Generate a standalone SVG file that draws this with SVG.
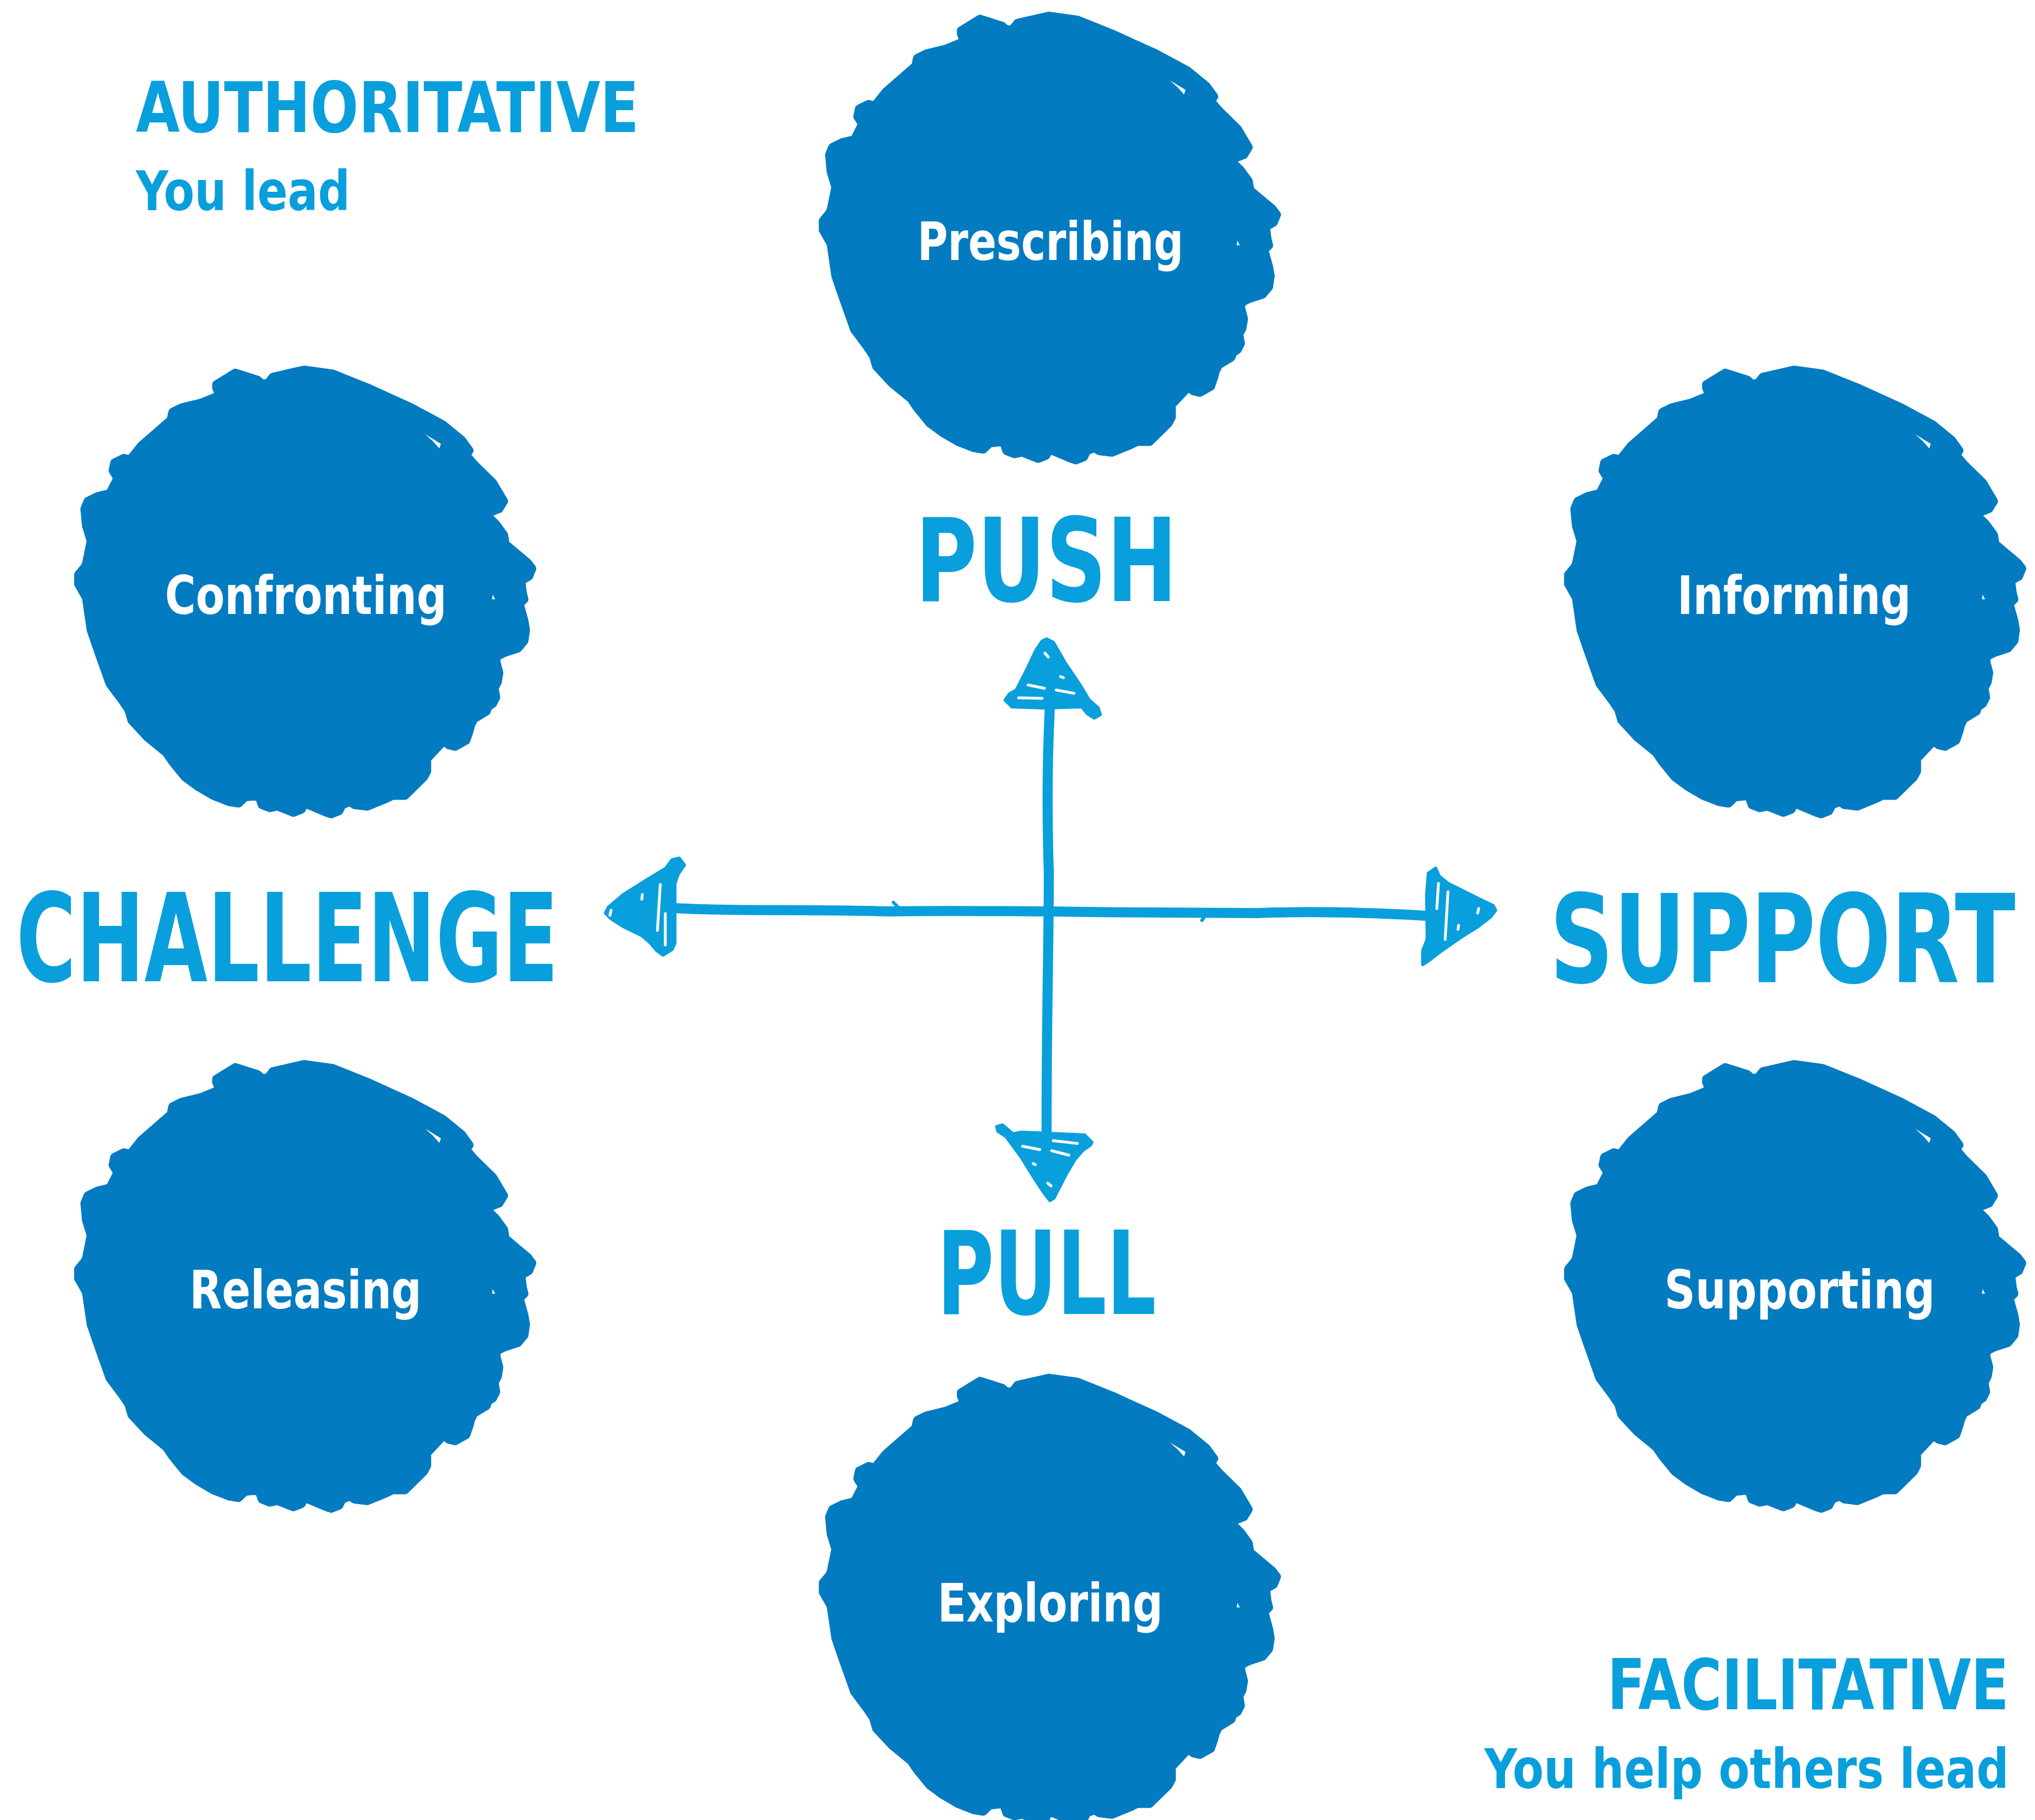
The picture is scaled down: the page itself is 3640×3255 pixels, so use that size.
<svg xmlns="http://www.w3.org/2000/svg" xmlns:xlink="http://www.w3.org/1999/xlink" width="3640" height="3255" viewBox="0 0 3640 3255">
<style>
.blob{fill:#037BC1;stroke:#037BC1;stroke-width:28;stroke-linejoin:round}
.gap{fill:#ffffff}
.lbl{font-family:"DejaVu Sans Condensed","DejaVu Sans",sans-serif;font-weight:bold;font-size:95px;fill:#ffffff}
.title{font-family:"DejaVu Sans Condensed","DejaVu Sans",sans-serif;font-weight:bold;fill:#099FDC}
.brush{font-family:"DejaVu Sans Condensed","DejaVu Sans",sans-serif;font-weight:bold;fill:#099FDC}
.ink{fill:#099FDC;stroke:#099FDC;stroke-width:6;stroke-linejoin:round}
.shaft{fill:none;stroke:#099FDC;stroke-linecap:round;stroke-linejoin:round}
.slit{fill:none;stroke:#ffffff;stroke-width:5;stroke-linecap:round}
</style>
<defs>
<g id="blob">
<path class="blob" d="M480,100 L540,62 L610,85 L625,98 L645,95 L660,75 L760,52 L850,65 L960,110 L1100,175 L1200,230 L1260,280 L1285,315 L1275,330 L1300,360 L1360,420 L1395,480 L1380,505 L1355,515 L1310,495 L1370,555 L1395,590 L1400,620 L1470,680 L1485,700 L1475,725 L1450,740 L1455,780 L1460,800 L1445,815 L1460,870 L1465,900 L1460,935 L1440,960 L1395,975 L1375,985 L1370,1000 L1380,1040 L1375,1070 L1365,1090 L1370,1120 L1360,1140 L1345,1150 L1340,1165 L1300,1190 L1290,1210 L1285,1230 L1275,1260 L1240,1280 L1220,1275 L1205,1260 L1150,1320 L1150,1360 L1140,1380 L1080,1440 L1040,1440 L1020,1450 L960,1475 L920,1470 L905,1460 L880,1470 L870,1490 L845,1500 L830,1495 L760,1465 L750,1485 L725,1495 L675,1475 L650,1480 L625,1470 L615,1440 L570,1445 L550,1465 L520,1460 L470,1440 L420,1410 L380,1380 L340,1330 L320,1300 L260,1250 L210,1195 L200,1160 L180,1130 L140,1075 L100,960 L80,900 L65,795 L40,750 L40,720 L60,695 L65,685 L80,610 L65,560 L60,505 L70,480 L100,465 L140,455 L165,405 L150,380 L155,355 L185,340 L205,345 L240,300 L335,215 L340,190 L370,175 L430,160 L490,135 L480,110 Z"/>
<path class="gap" d="M1145,262 L1195,293 L1190,308 L1170,285 Z"/>
<path class="gap" d="M1360,785 L1368,800 L1358,800 Z"/>
</g>
</defs>
<rect width="3640" height="3255" fill="#ffffff"/>

<g id="title-authoritative">
<text class="title" x="243" y="236" font-size="124" textLength="900" lengthAdjust="spacingAndGlyphs">AUTHORITATIVE</text>
<text class="title" x="243" y="376" font-size="98" textLength="383" lengthAdjust="spacingAndGlyphs">You lead</text>
</g>
<g id="title-facilitative">
<text class="title" transform="translate(2875,3057) scale(0.853,1)" x="0" y="0" font-size="124" textLength="842" lengthAdjust="spacingAndGlyphs">FACILITATIVE</text>
<text class="title" transform="translate(2655,3198) scale(0.911,1)" x="0" y="0" font-size="98" textLength="1030" lengthAdjust="spacingAndGlyphs">You help others lead</text>
</g>

<g id="node-prescribing">
<use xlink:href="#blob" href="#blob" transform="translate(1450,0) scale(0.5612,0.5485)"/>
<text class="lbl" x="1641" y="465" textLength="476" lengthAdjust="spacingAndGlyphs">Prescribing</text>
</g>
<g id="node-confronting">
<use xlink:href="#blob" href="#blob" transform="translate(118,633) scale(0.5612,0.5485)"/>
<text class="lbl" x="295" y="1098" textLength="504" lengthAdjust="spacingAndGlyphs">Confronting</text>
</g>
<g id="node-informing">
<use xlink:href="#blob" href="#blob" transform="translate(2783,633) scale(0.5612,0.5485)"/>
<text class="lbl" x="3000" y="1098" textLength="418" lengthAdjust="spacingAndGlyphs">Informing</text>
</g>
<g id="node-releasing">
<use xlink:href="#blob" href="#blob" transform="translate(118,1875) scale(0.5612,0.5485)"/>
<text class="lbl" x="339" y="2340" textLength="415" lengthAdjust="spacingAndGlyphs">Releasing</text>
</g>
<g id="node-supporting">
<use xlink:href="#blob" href="#blob" transform="translate(2783,1875) scale(0.5612,0.5485)"/>
<text class="lbl" x="2977" y="2340" textLength="484" lengthAdjust="spacingAndGlyphs">Supporting</text>
</g>
<g id="node-exploring">
<use xlink:href="#blob" href="#blob" transform="translate(1450,2436) scale(0.5612,0.5485)"/>
<text class="lbl" x="1677" y="2900" textLength="403" lengthAdjust="spacingAndGlyphs">Exploring</text>
</g>

<g id="axis-labels">
<text class="brush" x="1637" y="1075" font-size="206" textLength="469" lengthAdjust="spacingAndGlyphs">PUSH</text>
<text class="brush" x="1676" y="2350" font-size="206" textLength="392" lengthAdjust="spacingAndGlyphs">PULL</text>
<text class="brush" x="29" y="1755" font-size="220" textLength="970" lengthAdjust="spacingAndGlyphs">CHALLENGE</text>
<text class="brush" transform="translate(2772,1757) scale(0.794,1)" x="0" y="0" font-size="220" textLength="1049" lengthAdjust="spacingAndGlyphs">SUPPORT</text>
</g>

<g id="connectors">
<path class="shaft" stroke-width="18" d="M1205,1624 C1300,1630 1450,1626 1590,1630 C1700,1628 1800,1630 1874,1630 C2000,1632 2130,1633 2250,1633 C2350,1629 2450,1632 2555,1638"/>
<path class="shaft" stroke-width="6" d="M1598,1614 L1610,1626 M2150,1646 L2158,1634"/>
<path class="shaft" stroke-width="18" d="M1878,1262 C1874,1340 1872,1440 1876,1560 C1876,1700 1872,1800 1872,2024"/>
<path class="ink" d="M1083,1633 L1088,1623 L1115,1600 L1158,1573 L1191,1553 L1202,1538 L1215,1535 L1224,1547 L1213,1563 L1207,1580 L1207,1687 L1202,1698 L1186,1708 L1175,1700 L1164,1687 L1148,1673 L1115,1657 L1093,1643 Z"/>
<path class="slit" d="M1181,1582 L1176,1664 M1190,1634 L1190,1690 M1149,1600 L1148,1608 M1093,1628 L1091,1637"/>
<path class="ink" d="M2568,1553 L2574,1567 L2590,1580 L2644,1607 L2671,1620 L2675,1628 L2666,1640 L2644,1657 L2612,1677 L2579,1700 L2557,1717 L2545,1725 L2545,1700 L2553,1680 L2552,1600 L2555,1562 Z"/>
<path class="slit" d="M2573,1580 L2570,1625 M2590,1595 L2585,1680 M2645,1625 L2643,1633 M2609,1655 L2608,1662"/>
<path class="ink" d="M1872,1143 L1884,1149 L1906,1187 L1933,1227 L1948,1252 L1964,1266 L1968,1278 L1957,1284 L1945,1276 L1935,1264 L1868,1266 L1810,1264 L1798,1252 L1806,1241 L1818,1234 L1837,1197 L1853,1163 L1864,1147 Z"/>
<path class="slit" d="M1839,1225 L1868,1231 M1822,1248 L1864,1249 M1889,1234 L1921,1240 M1869,1168 L1875,1175 M1897,1210 L1902,1212"/>
<path class="ink" d="M1783,2015 L1793,2012 L1812,2028 L1827,2025 L1940,2030 L1948,2038 L1953,2043 L1950,2048 L1937,2057 L1923,2073 L1907,2100 L1893,2127 L1885,2143 L1878,2147 L1870,2137 L1850,2107 L1827,2070 L1800,2033 L1785,2023 Z"/>
<path class="slit" d="M1829,2050 L1860,2056 M1881,2058 L1912,2066 M1884,2040 L1927,2045 M1848,2081 L1852,2083 M1874,2116 L1880,2121"/>
</g>
</svg>
